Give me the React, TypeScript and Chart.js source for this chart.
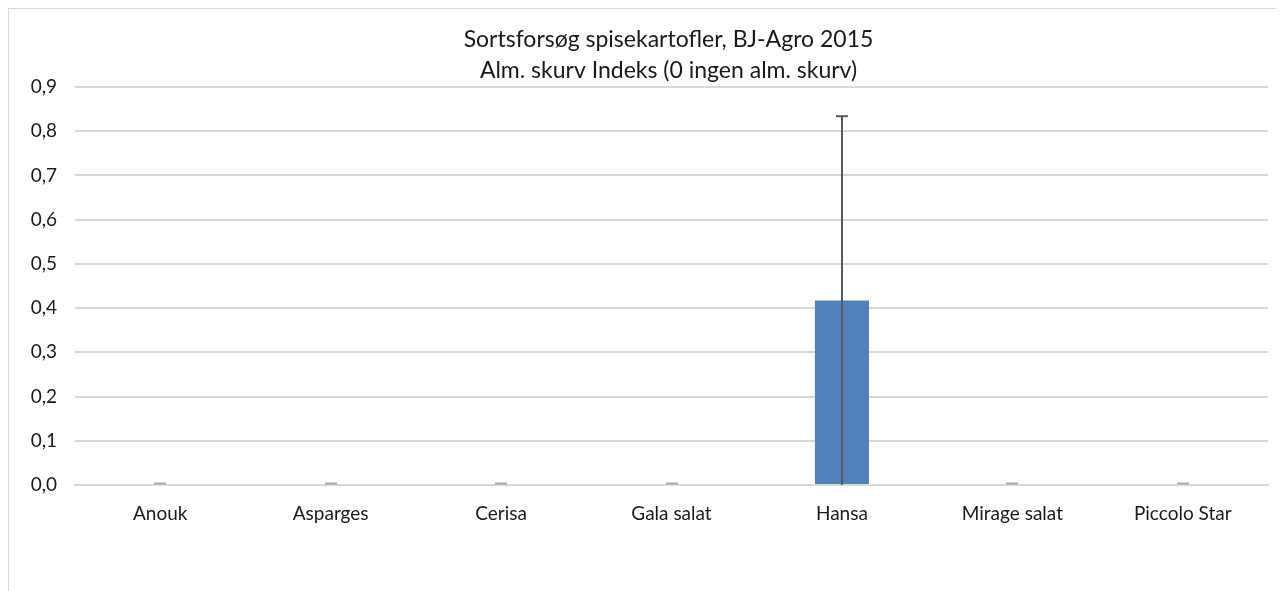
import React, { useEffect, useRef } from "react";
import { Chart, registerables } from "chart.js";

Chart.register(...registerables);

const titleLines = ["Sortsforsøg spisekartofler, BJ-Agro 2015", "Alm. skurv Indeks (0 ingen alm. skurv)"];
const categories = ["Anouk", "Asparges", "Cerisa", "Gala salat", "Hansa", "Mirage salat", "Piccolo Star"];
const values = [0, 0, 0, 0, 0.417, 0, 0];
const errors = [0, 0, 0, 0, 0.417, 0, 0];
const yMin = 0;
const yMax = 0.9;
const yStep = 0.1;

const FONT = "Lato, 'Open Sans', sans-serif";
const TEXT = "#1a1a1a";

const titlePlugin = {
  id: "customTitle",
  afterDraw(chart: any) {
    const ctx = chart.ctx;
    const a = chart.chartArea;
    const cx = (a.left + a.right) / 2 - 3;
    ctx.save();
    ctx.fillStyle = TEXT;
    ctx.font = `normal 23px ${FONT}`;
    ctx.textAlign = "center";
    ctx.textBaseline = "middle";
    ctx.fillText(titleLines[0], cx, 31);
    ctx.fillText(titleLines[1], cx, 61.5);
    ctx.restore();
  },
};

const errorBarPlugin = {
  id: "errorBars",
  afterDatasetsDraw(chart: any) {
    const ctx = chart.ctx;
    const x = chart.scales.x;
    const y = chart.scales.y;
    const base = y.getPixelForValue(yMin);
    ctx.save();
    values.forEach((v, i) => {
      const e = errors[i];
      const cx = Math.round(x.getPixelForValue(i));
      const yTop = y.getPixelForValue(v + e);
      const yBot = y.getPixelForValue(Math.max(yMin, v - e));
      const cap = 6;
      ctx.lineWidth = 2;
      ctx.strokeStyle = "#595959";
      ctx.beginPath();
      ctx.moveTo(cx, yTop);
      ctx.lineTo(cx, yBot);
      ctx.stroke();
      [yTop, yBot].forEach((yy) => {
        const atBase = Math.abs(yy - base) < 1;
        if (atBase && v !== 0) return;
        ctx.strokeStyle = atBase ? "#a6a6a6" : "#595959";
        ctx.lineWidth = atBase ? 1.5 : 2;
        ctx.beginPath();
        ctx.moveTo(cx - cap, atBase ? yy - 1.5 : yy);
        ctx.lineTo(cx + cap, atBase ? yy - 1.5 : yy);
        ctx.stroke();
      });
    });
    ctx.restore();
  },
};

export default function App() {
  const ref = useRef<HTMLCanvasElement>(null);
  useEffect(() => {
    if (!ref.current) return;
    const chart = new Chart(ref.current, {
      type: "bar",
      data: {
        labels: categories,
        datasets: [
          {
            data: values,
            backgroundColor: "#4f81bd",
            categoryPercentage: 1,
            barPercentage: 0.317,
          },
        ],
      },
      options: {
        animation: false,
        responsive: true,
        maintainAspectRatio: false,
        layout: { padding: { left: 0, right: 16, top: 78, bottom: 0 } },
        plugins: {
          legend: { display: false },
          tooltip: { enabled: false },
          title: { display: false },
        },
        scales: {
          x: {
            grid: { display: false, drawTicks: false },
            border: { display: true, color: "#d9d9d9", width: 2 },
            ticks: { color: TEXT, font: { family: FONT, size: 19 }, padding: 17 },
            afterFit: (s: any) => {
              s.height = 106;
            },
          },
          y: {
            min: yMin,
            max: yMax,
            grid: { color: "#d9d9d9", lineWidth: 2, drawTicks: false },
            border: { display: false },
            ticks: {
              stepSize: yStep,
              color: TEXT,
              font: { family: FONT, size: 19 },
              padding: 18,
              callback: (v: any) => Number(v).toFixed(1).replace(".", ","),
            },
            afterFit: (s: any) => {
              s.width = 66;
            },
          },
        },
      },
      plugins: [errorBarPlugin, titlePlugin],
    });
    return () => chart.destroy();
  }, []);
  return (
    <div
      style={{
        width: 1275,
        height: 582,
        borderTop: "1px solid #d9d9d9",
        borderLeft: "1px solid #d9d9d9",
        background: "#fff",
      }}
    >
      <div style={{ position: "relative", width: 1275, height: 582 }}>
        <canvas ref={ref} />
      </div>
    </div>
  );
}
